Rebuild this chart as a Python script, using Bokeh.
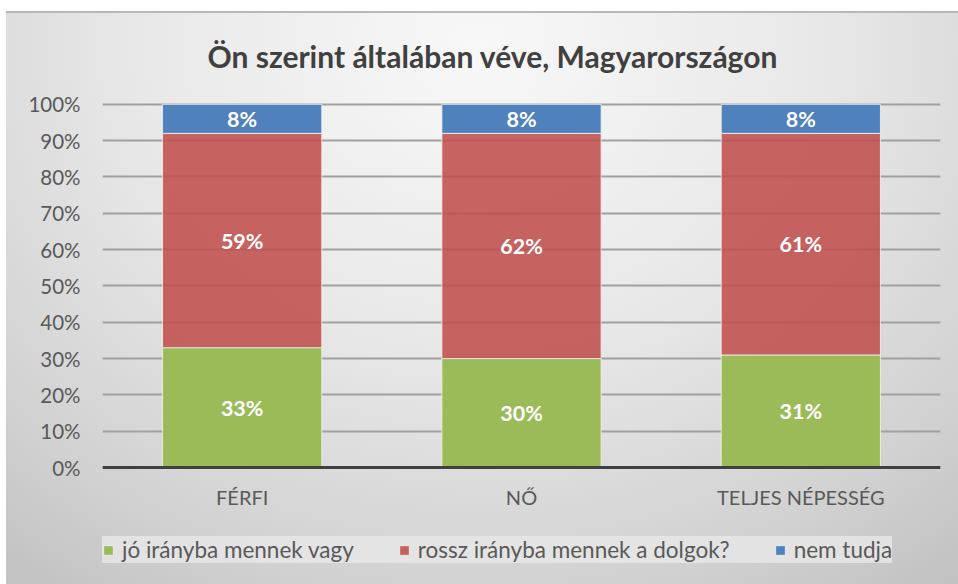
from bokeh.plotting import figure
from bokeh.models import ColumnDataSource, Range1d, FixedTicker, Legend, LegendItem, FactorRange
from bokeh.core.properties import value
from bokeh.embed import file_html
from bokeh.resources import INLINE

categories = ["FÉRFI", "NŐ", "TELJES NÉPESSÉG"]
jo = [33, 30, 31]
rossz = [59, 62, 61]
nem = [8, 8, 8]
series_names = ["jó irányba mennek vagy", "rossz irányba mennek a dolgok?", "nem tudja"]
y_ticks = [0, 10, 20, 30, 40, 50, 60, 70, 80, 90, 100]

colors = ["#9BBB59", "#C0504D", "#4F81BD"]
alphas = [1.0, 0.88, 1.0]
FONT = "Lato"

# frame extends below the 0% baseline to leave room for category labels and legend
p = figure(x_range=FactorRange(factors=categories), y_range=Range1d(-31.1, 100.5),
           frame_width=838, frame_height=478, output_backend="svg", toolbar_location=None,
           min_border_left=102, min_border_right=18, min_border_top=102, min_border_bottom=4)

p.background_fill_alpha = 0
p.border_fill_alpha = 0
p.outline_line_color = None
p.styles = {"background": (
    "linear-gradient(#ffffff,#ffffff) 0 0 / 100% 11px no-repeat, "
    "linear-gradient(#ffffff,#ffffff) 0 0 / 6px 100% no-repeat, "
    "linear-gradient(#b8b8b8,#b8b8b8) 0 11px / 100% 2px no-repeat, "
    "radial-gradient(ellipse 80% 115% at 50% 8%, #f8f8f8 0%, #e8e8e8 45%, #d2d2d2 80%, #c2c2c2 100%)")}

series = [jo, rossz, nem]
bottoms = [0, 0, 0]
renderers = []
label_x, label_y, label_t = [], [], []
for vals, col, a in zip(series, colors, alphas):
    tops = [b + v for b, v in zip(bottoms, vals)]
    src = ColumnDataSource(dict(x=categories, bottom=bottoms, top=tops))
    r = p.vbar(x="x", bottom="bottom", top="top", width=0.57, source=src,
               fill_color=col, fill_alpha=a, line_color="#f4f4f4", line_width=1, line_alpha=0.8)
    renderers.append(r)
    for c, b, t, v in zip(categories, bottoms, tops, vals):
        label_x.append(c)
        label_y.append((b + t) / 2)
        label_t.append(f"{v}%")
    bottoms = tops

p.text(x=label_x, y=label_y, text=label_t, text_align="center", text_baseline="middle",
       text_color="white", text_font=value(FONT), text_font_style="bold", text_font_size="21.5px")

p.title.text = "Ön szerint általában  véve, Magyarországon"
p.title.align = "left"
p.title.offset = 105
p.title.text_font = FONT
p.title.text_font_size = "30px"
p.title.text_font_style = "bold"
p.title.text_color = "#404040"
p.title.standoff = 58

p.xgrid.grid_line_color = None
p.ygrid.grid_line_color = "#a0a0a0"
p.ygrid.grid_line_width = 2
p.ygrid.ticker = FixedTicker(ticks=y_ticks)

p.yaxis.ticker = FixedTicker(ticks=y_ticks)
p.yaxis.major_label_overrides = {t: f"{t}%" for t in y_ticks}
p.yaxis.axis_line_color = None
p.yaxis.major_tick_line_color = None
p.yaxis.minor_tick_line_color = None
p.yaxis.major_tick_out = 0
p.yaxis.major_label_standoff = 22
p.yaxis.major_label_text_font = FONT
p.yaxis.major_label_text_font_size = "20.5px"
p.yaxis.major_label_text_color = "#595959"

p.xaxis.fixed_location = 0
p.xaxis.axis_line_color = "#404040"
p.xaxis.axis_line_width = 3
p.xaxis.major_tick_line_color = None
p.xaxis.major_tick_out = 0
p.xaxis.major_label_standoff = 17
p.xaxis.major_label_text_font = FONT
p.xaxis.major_label_text_font_size = "20px"
p.xaxis.major_label_text_color = "#595959"

legend = Legend(items=[LegendItem(label=n, renderers=[r]) for n, r in zip(series_names, renderers)],
                orientation="horizontal", location=(0, 17),
                label_text_font=FONT, label_text_font_size="22.5px", label_text_color="#595959",
                glyph_width=12, glyph_height=12, label_standoff=8, spacing=44,
                padding=10, margin=0,
                background_fill_color="#e6e6e6", background_fill_alpha=0.85,
                border_line_color=None)
p.add_layout(legend)

open("out.html", "w").write(file_html(p, INLINE))
